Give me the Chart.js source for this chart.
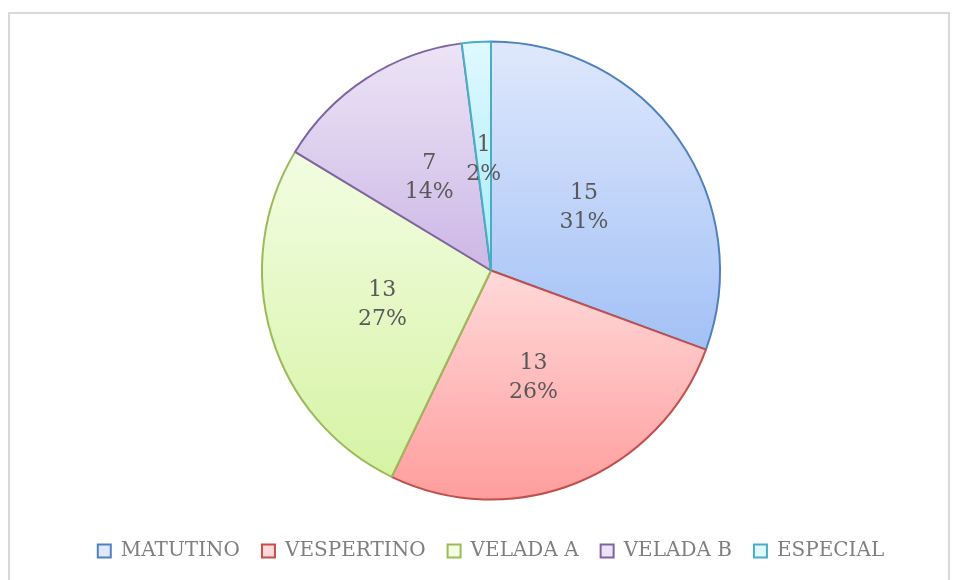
<!DOCTYPE html>
<html>
<head>
<meta charset="utf-8">
<script src="https://cdn.jsdelivr.net/npm/chart.js@4"></script>
<style>
  html, body { margin: 0; padding: 0; background: #fff; }
  #wrap { position: relative; width: 954px; height: 580px; }
  #frame { position: absolute; left: 8px; top: 12px; width: 942px; height: 580px;
           border: 2px solid #d9d9d9; box-sizing: border-box; }
  canvas { position: absolute; left: 0; top: 0; }
</style>
</head>
<body>
<div id="wrap">
  <div id="frame"></div>
  <canvas id="pieChart" width="954" height="580"></canvas>
</div>
<script>
const categories = ['MATUTINO', 'VESPERTINO', 'VELADA A', 'VELADA B', 'ESPECIAL'];
const counts = [15, 13, 13, 7, 1];
const percentLabels = ['31%', '26%', '27%', '14%', '2%'];

const lightColors = ['#dfe8fc', '#ffd9d9', '#f2fde2', '#ece4f6', '#e0f9ff'];
const darkColors = ['#a3c1f6', '#ff9d9d', '#d6f3a4', '#cdb7e6', '#a8ecfb'];
const borderColors = ['#4f81bd', '#c0504d', '#9bbb59', '#8064a2', '#4bacc6'];

// vertical gradient fitted to each slice's own bounding box
const sliceGradients = {
    id: 'sliceGradients',
    beforeDatasetsDraw(chart) {
        const ctx = chart.ctx;
        chart.getDatasetMeta(0).data.forEach((arc, i) => {
            const { x, y, startAngle, endAngle, outerRadius } = arc.getProps(['x', 'y', 'startAngle', 'endAngle', 'outerRadius'], true);
            let ys = [y, y + Math.sin(startAngle) * outerRadius, y + Math.sin(endAngle) * outerRadius];
            [-Math.PI / 2, Math.PI / 2, 3 * Math.PI / 2].forEach(a => {
                if (a > startAngle && a < endAngle) ys.push(y + Math.sin(a) * outerRadius);
            });
            const g = ctx.createLinearGradient(0, Math.min(...ys), 0, Math.max(...ys));
            g.addColorStop(0, lightColors[i]);
            g.addColorStop(1, darkColors[i]);
            arc.options.backgroundColor = g;
        });
    }
};

const sliceLabels = {
    id: 'sliceLabels',
    afterDatasetsDraw(chart) {
        const ctx = chart.ctx;
        ctx.save();
        ctx.font = '22px "DejaVu Serif"';
        ctx.fillStyle = '#595959';
        ctx.textAlign = 'center';
        ctx.textBaseline = 'middle';
        chart.getDatasetMeta(0).data.forEach((arc, i) => {
            const { x, y, startAngle, endAngle, outerRadius } = arc.getProps(['x', 'y', 'startAngle', 'endAngle', 'outerRadius'], true);
            const mid = (startAngle + endAngle) / 2;
            const r = outerRadius * 0.495;
            const cx = x + Math.cos(mid) * r;
            const cy = y + Math.sin(mid) * r;
            ctx.fillText(String(counts[i]), cx, cy - 12);
            ctx.fillText(percentLabels[i], cx, cy + 17);
        });
        ctx.restore();
    }
};

const ctx = document.getElementById('pieChart').getContext('2d');
const pieChart = new Chart(ctx, {
    type: 'pie',
    data: {
        labels: categories,
        datasets: [{
            data: counts,
            backgroundColor: darkColors,
            borderColor: borderColors,
            borderWidth: 2
        }]
    },
    options: {
        responsive: false,
        animation: false,
        radius: 229,
        layout: { padding: { top: 22, bottom: 9, left: 28, right: 0 } },
        plugins: {
            tooltip: { enabled: false },
            legend: {
                position: 'bottom',
                labels: {
                    boxWidth: 13,
                    boxHeight: 13,
                    padding: 22,
                    color: '#7f7f7f',
                    font: { family: '"DejaVu Serif"', size: 20 },
                    generateLabels(chart) {
                        return categories.map((name, i) => ({
                            text: name,
                            fillStyle: lightColors[i],
                            strokeStyle: borderColors[i],
                            lineWidth: 2,
                            fontColor: '#7f7f7f',
                            index: i
                        }));
                    }
                }
            }
        }
    },
    plugins: [sliceGradients, sliceLabels]
});
</script>
</body>
</html>
